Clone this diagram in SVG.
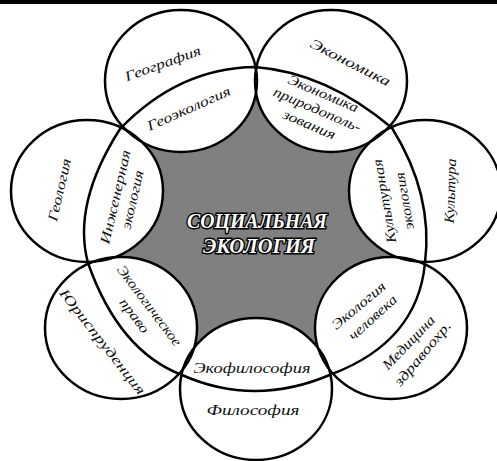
<svg xmlns="http://www.w3.org/2000/svg" width="497" height="461" viewBox="0 0 497 461">
  <style>
    .lbl { font-family: "Liberation Serif", "DejaVu Serif", serif; font-style: italic; font-size: 14px; fill: #111; text-anchor: middle; }
    .ring { fill: none; stroke: #000; stroke-width: 2.5; }
    .fill { fill: #fff; stroke: none; }
    .div { fill: none; stroke: #000; stroke-width: 2.5; stroke-linejoin: round; }
    .core { font-family: "Liberation Serif", "DejaVu Serif", serif; font-weight: bold; font-style: italic; font-size: 21px; fill: #fff; stroke: #000; stroke-width: 2.8; paint-order: stroke; text-anchor: middle; }
  </style>
  <defs>
    <clipPath id="union">
      <ellipse cx="181" cy="81" rx="76" ry="71"/>
      <ellipse cx="331" cy="81" rx="76" ry="71"/>
      <ellipse cx="425" cy="191" rx="76" ry="71"/>
      <ellipse cx="391" cy="328" rx="76" ry="71"/>
      <ellipse cx="256" cy="389" rx="76" ry="71"/>
      <ellipse cx="121" cy="328" rx="76" ry="71"/>
      <ellipse cx="87" cy="191" rx="76" ry="71"/>
    </clipPath>
  </defs>
  <rect x="0" y="0" width="497" height="461" fill="#fff"/>
  <rect x="0" y="0" width="497" height="4" fill="#000"/>

  <g id="social-ecology">
    <polygon points="181,81 331,81 425,191 391,328 256,389 121,328 87,191" fill="#808080"/>
  </g>

  <g id="fills">
    <ellipse class="fill" cx="181" cy="81" rx="76" ry="71"/>
    <ellipse class="fill" cx="331" cy="81" rx="76" ry="71"/>
    <ellipse class="fill" cx="425" cy="191" rx="76" ry="71"/>
    <ellipse class="fill" cx="391" cy="328" rx="76" ry="71"/>
    <ellipse class="fill" cx="256" cy="389" rx="76" ry="71"/>
    <ellipse class="fill" cx="121" cy="328" rx="76" ry="71"/>
    <ellipse class="fill" cx="87" cy="191" rx="76" ry="71"/>
  </g>

  <g id="connectors" clip-path="url(#union)">
    <path class="div" d="M120,129 Q178.5,68 255,67 Q326.5,72.5 392,128 Q433.5,194.5 425,263 Q417.5,341.5 332,374 Q255,407.5 182,375 Q119,351 88,263 Q72,204 120,129 Z"/>
  </g>

  <g id="center-label">
    <text class="core" x="257" y="228" textLength="140" lengthAdjust="spacingAndGlyphs">СОЦИАЛЬНАЯ</text>
    <text class="core" x="259" y="253" textLength="112" lengthAdjust="spacingAndGlyphs">ЭКОЛОГИЯ</text>
  </g>

  <g id="geography">
    <ellipse class="ring" cx="181" cy="81" rx="76" ry="71"/>
    <text class="lbl" transform="translate(163,64) rotate(-20)" y="4" textLength="80" lengthAdjust="spacingAndGlyphs">География</text>
    <text class="lbl" transform="translate(189,109) rotate(-24)" y="4" textLength="90" lengthAdjust="spacingAndGlyphs">Геоэкология</text>
  </g>

  <g id="economics">
    <ellipse class="ring" cx="331" cy="81" rx="76" ry="71"/>
    <text class="lbl" transform="translate(350,63) rotate(27)" y="4" textLength="88" lengthAdjust="spacingAndGlyphs">Экономика</text>
    <text class="lbl" transform="translate(323,94) rotate(23)" y="4" textLength="75" lengthAdjust="spacingAndGlyphs">Экономика</text>
    <text class="lbl" transform="translate(317,110) rotate(23)" y="4" textLength="94" lengthAdjust="spacingAndGlyphs">природополь-</text>
    <text class="lbl" transform="translate(309,125) rotate(23)" y="4" textLength="56" lengthAdjust="spacingAndGlyphs">зования</text>
  </g>

  <g id="culture">
    <ellipse class="ring" cx="425" cy="191" rx="76" ry="71"/>
    <text class="lbl" transform="translate(451,191) rotate(-88)" y="4" textLength="65" lengthAdjust="spacingAndGlyphs">Культура</text>
    <text class="lbl" transform="translate(385,201) rotate(-100)" y="4" textLength="85" lengthAdjust="spacingAndGlyphs">Культурная</text>
    <text class="lbl" transform="translate(405,201) rotate(-100)" y="4" textLength="58" lengthAdjust="spacingAndGlyphs">экология</text>
  </g>

  <g id="medicine">
    <ellipse class="ring" cx="391" cy="328" rx="76" ry="71"/>
    <text class="lbl" transform="translate(359,306) rotate(-40)" y="4" textLength="66" lengthAdjust="spacingAndGlyphs">Экология</text>
    <text class="lbl" transform="translate(373,318) rotate(-42)" y="4" textLength="60" lengthAdjust="spacingAndGlyphs">человека</text>
    <text class="lbl" transform="translate(409,343) rotate(-46)" y="4" textLength="69" lengthAdjust="spacingAndGlyphs">Медицина</text>
    <text class="lbl" transform="translate(423,354) rotate(-50)" y="4" textLength="80" lengthAdjust="spacingAndGlyphs">здравоохр.</text>
  </g>

  <g id="philosophy">
    <ellipse class="ring" cx="256" cy="389" rx="76" ry="71"/>
    <text class="lbl" x="252" y="373" textLength="117" lengthAdjust="spacingAndGlyphs">Экофилософия</text>
    <text class="lbl" x="253" y="415" textLength="93" lengthAdjust="spacingAndGlyphs">Философия</text>
  </g>

  <g id="law">
    <ellipse class="ring" cx="121" cy="328" rx="76" ry="71"/>
    <text class="lbl" transform="translate(102,342) rotate(52)" y="4" textLength="130" lengthAdjust="spacingAndGlyphs">Юриспруденция</text>
    <text class="lbl" transform="translate(149,306) rotate(53)" y="4" textLength="97" lengthAdjust="spacingAndGlyphs">Экологическое</text>
    <text class="lbl" transform="translate(134,316) rotate(53)" y="4" textLength="40" lengthAdjust="spacingAndGlyphs">право</text>
  </g>

  <g id="geology">
    <ellipse class="ring" cx="87" cy="191" rx="76" ry="71"/>
    <text class="lbl" transform="translate(60,190) rotate(-77)" y="4" textLength="64" lengthAdjust="spacingAndGlyphs">Геология</text>
    <text class="lbl" transform="translate(116,197) rotate(-77)" y="4" textLength="96" lengthAdjust="spacingAndGlyphs">Инженерная</text>
    <text class="lbl" transform="translate(133,200) rotate(-77)" y="4" textLength="60" lengthAdjust="spacingAndGlyphs">экология</text>
  </g>
</svg>
